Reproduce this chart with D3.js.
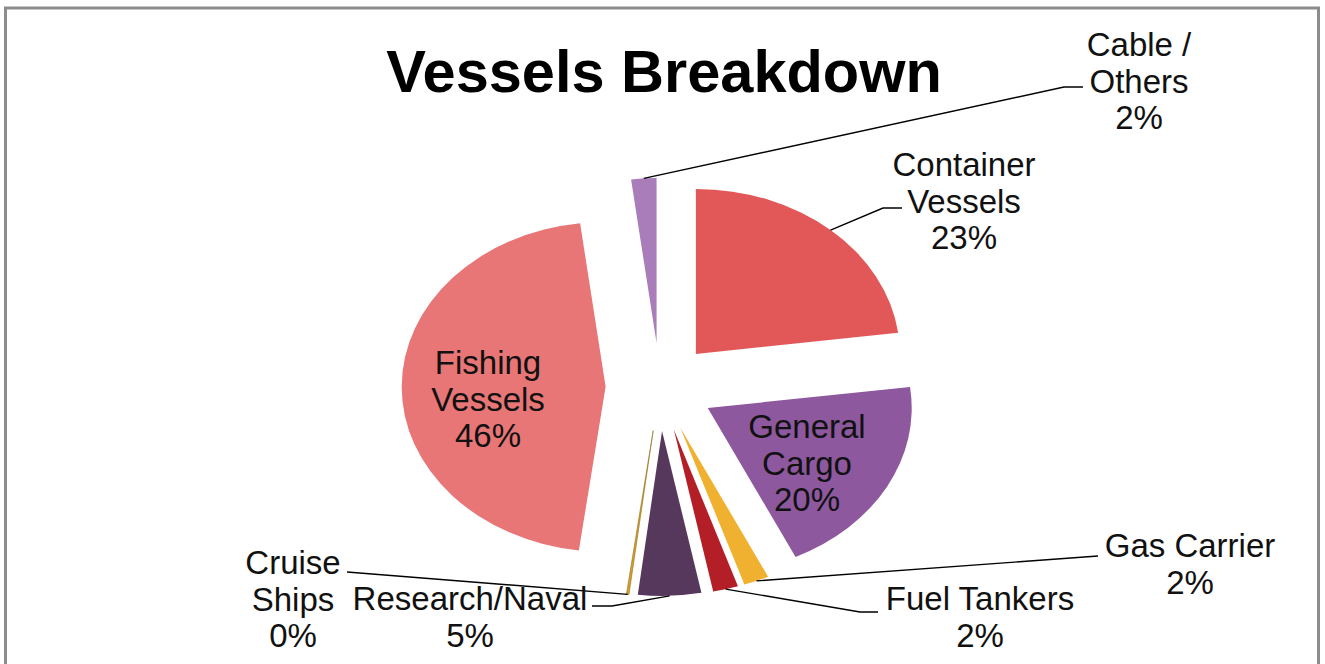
<!DOCTYPE html>
<html>
<head>
<meta charset="utf-8">
<title>Vessels Breakdown</title>
<script src="https://cdn.jsdelivr.net/npm/d3@7"></script>
<style>
  html, body { margin: 0; padding: 0; background: #ffffff; }
  svg { display: block; }
  text { font-family: "Liberation Sans", Arial, sans-serif; }
</style>
</head>
<body>
<svg id="chart" width="1325" height="664"></svg>
<script>
// Vessel categories, clockwise from twelve o'clock
const categories = [
  "Container Vessels",
  "General Cargo",
  "Gas Carrier",
  "Fuel Tankers",
  "Research/Naval",
  "Cruise Ships",
  "Fishing Vessels",
  "Cable / Others"
];

// Share of the fleet, in percent
const shares = [23, 20, 2, 2, 5, 0.2, 46, 2];

// Slice colours, in category order
const sliceColors = [
  "#E25858", "#8E589F", "#EFB12F", "#B41F27",
  "#57385D", "#D6A022", "#E87676", "#A97CBA"
];

const title = "Vessels Breakdown";

// ---- layout ----
const W = 1325, H = 664;
const cx = 660, cy = 387;      // pie centre
const r = 165;                  // vertical radius
const sx = 1.236;               // horizontal stretch of the pie
const explode = 44;             // how far every slice is pulled out

// label anchors: centre x, first baseline, wrap words, leader polyline tail
const labelLayout = {
  "Container Vessels": { x: 964,  y: 176, wrap: true,  leader: [[883, 208], [902, 208]] },
  "General Cargo":     { x: 807,  y: 438, wrap: true,  leader: null },
  "Gas Carrier":       { x: 1190, y: 557, wrap: false, leader: [[1098, 556]] },
  "Fuel Tankers":      { x: 980,  y: 610, wrap: false, leader: [[860, 612], [878, 612]] },
  "Research/Naval":    { x: 470,  y: 610, wrap: false, leader: [[612, 606], [592, 606]] },
  "Cruise Ships":      { x: 293,  y: 574, wrap: true,  leader: [[347, 572]] },
  "Fishing Vessels":   { x: 488,  y: 374, wrap: true,  leader: null },
  "Cable / Others":    { x: 1139, y: 56,  wrap: true,  leader: [[1064, 87], [1083, 87]] }
};
const lineStep = 36.5;

const svg = d3.select("#chart");

// frame
svg.append("rect")
  .attr("x", 5.5).attr("y", 8)
  .attr("width", 1313).attr("height", 720)
  .attr("fill", "#ffffff")
  .attr("stroke", "#8c8c8c")
  .attr("stroke-width", 3);

// title
svg.append("text")
  .attr("x", 664).attr("y", 92)
  .attr("text-anchor", "middle")
  .attr("font-size", 59.5)
  .attr("font-weight", "bold")
  .attr("fill", "#000")
  .text(title);

const data = categories.map((c, i) => ({ name: c, value: shares[i] }));
const total = d3.sum(shares);

const color = d3.scaleOrdinal().domain(categories).range(sliceColors);

const pie = d3.pie().sort(null).value(d => d.value);
const arcs = pie(data);

const arc = d3.arc().innerRadius(0).outerRadius(r);

// offset of each exploded slice, in unstretched pie units
function offset(a) {
  const mid = (a.startAngle + a.endAngle) / 2;
  return [explode * Math.sin(mid), -explode * Math.cos(mid)];
}
// point on a slice's rim at a given angle, in screen coordinates
function rimPoint(a, ang) {
  const [ox, oy] = offset(a);
  return [cx + sx * (ox + r * Math.sin(ang)), cy + oy - r * Math.cos(ang)];
}

const pieG = svg.append("g")
  .attr("transform", `translate(${cx},${cy}) scale(${sx},1)`);

pieG.selectAll("path.slice")
  .data(arcs)
  .join("path")
  .attr("class", "slice")
  .attr("transform", d => `translate(${offset(d)[0]},${offset(d)[1]})`)
  .attr("d", arc)
  .attr("fill", d => color(d.data.name))
  .attr("stroke", d => d.data.value < 1 ? "#8a6a20" : "none")
  .attr("stroke-width", d => d.data.value < 1 ? 0.5 : 0);

// leader lines
const line = d3.line();
const leaderG = svg.append("g");
arcs.forEach(a => {
  const L = labelLayout[a.data.name];
  if (!L.leader) return;
  const mid = (a.startAngle + a.endAngle) / 2;
  const pts = [rimPoint(a, mid)].concat(L.leader);
  leaderG.append("path")
    .attr("d", line(pts))
    .attr("fill", "none")
    .attr("stroke", "#000")
    .attr("stroke-width", 1.4);
});

// labels: name (wrapped) + rounded percentage
function wrapName(name, wrap) {
  if (!wrap) return [name];
  const words = name.split(" ");
  const out = [];
  words.forEach(w => {
    if (w === "/" && out.length) out[out.length - 1] += " /";
    else out.push(w);
  });
  return out;
}

const labelG = svg.append("g");
arcs.forEach(a => {
  const L = labelLayout[a.data.name];
  const pct = Math.round(a.data.value / total * 100) + "%";
  const lines = wrapName(a.data.name, L.wrap).concat([pct]);
  const t = labelG.append("text")
    .attr("text-anchor", "middle")
    .attr("font-size", 33)
    .attr("fill", "#111");
  lines.forEach((s, i) => {
    t.append("tspan")
      .attr("x", L.x)
      .attr("y", L.y + i * lineStep)
      .text(s);
  });
});
</script>
</body>
</html>
